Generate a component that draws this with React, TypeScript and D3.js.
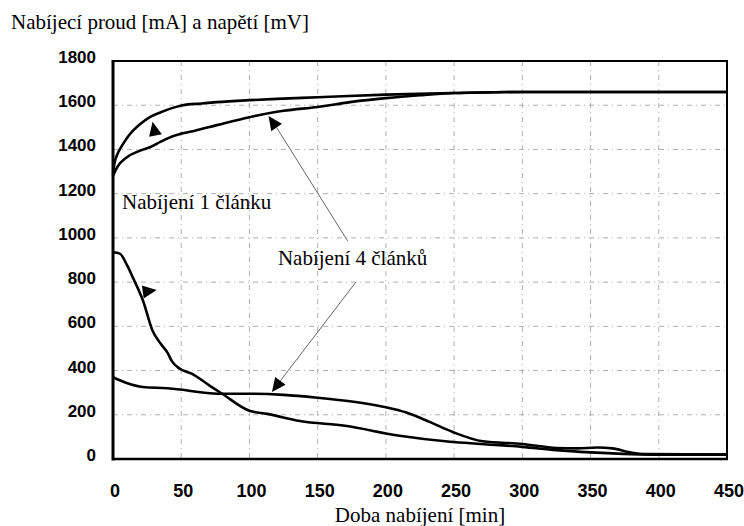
import React from "react";
import * as d3 from "d3";

// ---- data (time in minutes, values in mA / mV) ----
const xTicks = [0, 50, 100, 150, 200, 250, 300, 350, 400, 450];
const yTicks = [0, 200, 400, 600, 800, 1000, 1200, 1400, 1600, 1800];

const voltage1Time = [0, 1, 3, 5, 10, 15, 20, 27, 35, 40, 51, 65, 76, 100, 125, 150, 200, 250, 300, 350, 400, 450];
const voltage1Value = [1285, 1335, 1375, 1400, 1450, 1487, 1515, 1546, 1568, 1580, 1600, 1608, 1614, 1623, 1630, 1636, 1648, 1655, 1660, 1660, 1660, 1660];

const voltage4Time = [0, 3, 10, 20, 27, 35, 40, 51, 60, 76, 100, 125, 150, 175, 200, 225, 250, 275, 300, 450];
const voltage4Value = [1280, 1319, 1364, 1395, 1410, 1435, 1450, 1473, 1485, 1510, 1546, 1575, 1592, 1615, 1632, 1645, 1655, 1658, 1660, 1660];

const current1Time = [0, 5, 10, 15, 22, 29, 35, 40, 43, 49, 58, 71, 80, 100, 113, 137, 170, 210, 247, 270, 300, 325, 350, 380, 400, 450];
const current1Value = [935, 929, 880, 815, 716, 580, 521, 480, 444, 408, 385, 331, 295, 218, 204, 172, 150, 105, 78, 68, 55, 40, 30, 22, 20, 20];

const current4Time = [0, 10, 22, 40, 51, 64, 80, 100, 125, 150, 175, 200, 215, 232, 249, 271, 300, 325, 340, 355, 366, 379, 390, 450];
const current4Value = [370, 344, 326, 320, 313, 302, 295, 295, 290, 277, 260, 234, 210, 168, 122, 80, 68, 50, 48, 52, 48, 30, 22, 20];

// annotations: arrow tips in data units
const arrowTipTime = [29, 114, 32, 116.5];
const arrowTipValue = [1525, 1551, 764, 303];
const arrowAngle = [-102, -125, -8, 127];
const leaderEndTime = [null, 172, null, 178];
const leaderEndValue = [null, 986, null, 800];

const labelTexts = ["Nabíjení 1 článku", "Nabíjení 4 článků"];
const labelTime = [6.6, 120.9];
const labelValue = [1131, 877];

const titleText = "Nabíjecí proud [mA] a napětí [mV]";
const xTitleText = "Doba nabíjení [min]";

const W = 744;
const H = 526;
const L = 113, R = 727, T = 61, B = 459;

export default function App() {
  const x = d3.scaleLinear().domain([0, 450]).range([L, R]);
  const y = d3.scaleLinear().domain([0, 1800]).range([B, T]);

  const line = d3
    .line<[number, number]>()
    .x((d) => x(d[0]))
    .y((d) => y(d[1]))
    .curve(d3.curveMonotoneX);

  const series = [
    d3.zip(voltage1Time, voltage1Value) as [number, number][],
    d3.zip(voltage4Time, voltage4Value) as [number, number][],
    d3.zip(current1Time, current1Value) as [number, number][],
    d3.zip(current4Time, current4Value) as [number, number][],
  ];

  const serif = "'Liberation Serif', 'Times New Roman', serif";
  const sans = "'Liberation Sans', Arial, sans-serif";

  const arrowLen = 14;
  const arrowHalf = 6.5;

  return (
    <svg
      width={W}
      height={H}
      viewBox={`0 0 ${W} ${H}`}
      style={{ position: "absolute", left: 0, top: 0, background: "#fff" }}
    >
      <rect x={0} y={0} width={W} height={H} fill="#fff" />
      {/* grid */}
      <g stroke="#b0b0b0" strokeWidth={1} strokeDasharray="5,4,1,4" fill="none">
        {yTicks.filter((v) => v > 0 && v < 1800).map((v) => (
          <line key={"gy" + v} x1={L} x2={R} y1={y(v)} y2={y(v)} />
        ))}
        {xTicks.filter((t) => t > 0 && t < 450).map((t) => (
          <line key={"gx" + t} x1={x(t)} x2={x(t)} y1={T} y2={B} />
        ))}
      </g>

      {/* frame */}
      <rect x={L} y={T} width={R - L} height={B - T} fill="none" stroke="#000" strokeWidth={2} />
      <line x1={L} x2={L} y1={T - 1} y2={B + 1.5} stroke="#000" strokeWidth={3} />
      <line x1={L} x2={R + 1} y1={B} y2={B} stroke="#000" strokeWidth={2.5} />

      {/* curves */}
      {series.map((s, i) => (
        <path key={"s" + i} d={line(s) || ""} fill="none" stroke="#000" strokeWidth={2.6} strokeLinejoin="round" />
      ))}

      {/* leader lines + arrowheads */}
      {arrowTipTime.map((t, i) => {
        const tx = x(t);
        const ty = y(arrowTipValue[i]);
        const a = (arrowAngle[i] * Math.PI) / 180;
        const bx = tx - Math.cos(a) * arrowLen;
        const by = ty - Math.sin(a) * arrowLen;
        const px = -Math.sin(a) * arrowHalf;
        const py = Math.cos(a) * arrowHalf;
        const pts = `${tx},${ty} ${bx + px},${by + py} ${bx - px},${by - py}`;
        const et = leaderEndTime[i];
        const ev = leaderEndValue[i];
        return (
          <g key={"a" + i}>
            {et !== null && ev !== null && (
              <line x1={bx} y1={by} x2={x(et)} y2={y(ev)} stroke="#666" strokeWidth={1} />
            )}
            <polygon points={pts} fill="#000" />
          </g>
        );
      })}

      {/* labels */}
      {labelTexts.map((txt, i) => (
        <text key={"l" + i} x={x(labelTime[i])} y={y(labelValue[i])} fontFamily={serif} fontSize={21} fill="#000">
          {txt}
        </text>
      ))}

      {/* y tick labels */}
      {yTicks.map((v) => (
        <text key={"yt" + v} x={96} y={y(v) + 2} textAnchor="end" fontFamily={sans} fontWeight="bold" fontSize={17} fill="#000">
          {v}
        </text>
      ))}

      {/* x tick labels */}
      {xTicks.map((t) => (
        <text key={"xt" + t} x={x(t) + 2} y={497} textAnchor="middle" fontFamily={sans} fontWeight="bold" fontSize={18} fill="#000">
          {t}
        </text>
      ))}

      {/* titles */}
      <text x={11} y={29} fontFamily={serif} fontSize={21} fill="#000">
        {titleText}
      </text>
      <text x={(L + R) / 2} y={522} textAnchor="middle" fontFamily={serif} fontSize={21} fill="#000">
        {xTitleText}
      </text>
    </svg>
  );
}
